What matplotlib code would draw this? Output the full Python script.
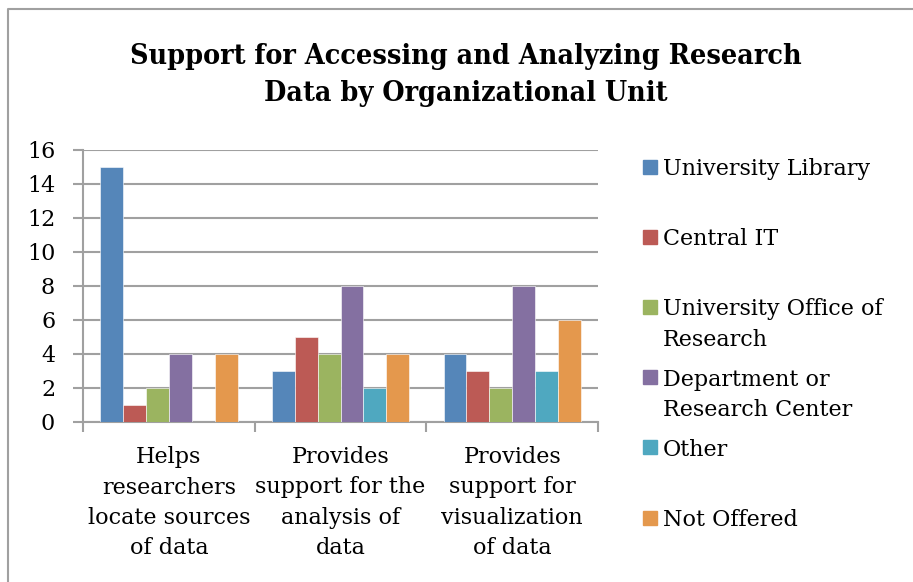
import numpy as np
import matplotlib
matplotlib.use('Agg')
from matplotlib import pyplot as plt
from matplotlib.patches import Rectangle
from matplotlib.lines import Line2D
from matplotlib.transforms import blended_transform_factory

# data
categories = ['Helps\nresearchers\nlocate sources\nof data',
              'Provides\nsupport for the\nanalysis of\ndata',
              'Provides\nsupport for\nvisualization\nof data']
series = ['University Library', 'Central IT', 'University Office of\nResearch',
          'Department or\nResearch Center', 'Other', 'Not Offered']
univ_library = [15, 3, 4]
central_it = [1, 5, 3]
office_research = [2, 4, 2]
department = [4, 8, 8]
other = [0, 2, 3]
not_offered = [4, 4, 6]
yticks = [0, 2, 4, 6, 8, 10, 12, 14, 16]

values = [univ_library, central_it, office_research, department, other, not_offered]
colors = ['#5586B9', '#BC5A55', '#9BB460', '#8470A1', '#4FA8C0', '#E4984D']

serif = 'DejaVu Serif'
fs = 16
W, H = 913, 582
fig = plt.figure(figsize=(W / 100, H / 100), dpi=100)
ax = fig.add_axes([83 / W, 1 - 422 / H, (598 - 83) / W, (422 - 150) / H])

x = np.arange(len(categories))
bw = 0.8 / len(series)
for i, (vals, c) in enumerate(zip(values, colors)):
    ax.bar(x - 0.4 + bw * (i + 0.5), vals, bw, color=c, edgecolor='white',
           linewidth=0.4, zorder=3)

ax.set_xlim(-0.5, 2.5)
ax.set_ylim(0, 16)
ax.set_yticks(yticks)
ax.set_yticklabels([str(v) for v in yticks], family=serif, fontsize=fs)
ax.yaxis.grid(True, color='#A0A0A0', linewidth=1.5, zorder=0)
ax.set_axisbelow(True)
for s in ['top', 'right']:
    ax.spines[s].set_visible(False)
for s in ['left', 'bottom']:
    ax.spines[s].set_color('#A0A0A0')
    ax.spines[s].set_linewidth(1.5)
ax.tick_params(axis='y', length=7, width=1.5, color='#A0A0A0', pad=13)

# category labels between boundary ticks
ax.set_xticks([-0.5, 0.5, 1.5, 2.5])
ax.set_xticklabels([])
ax.tick_params(axis='x', length=7, width=1.5, color='#A0A0A0')
trans = blended_transform_factory(ax.transData, fig.transFigure)
for xi, lab in zip(x, categories):
    ax.text(xi, 1 - 446 / H, lab, ha='center', va='top', family=serif, fontsize=fs,
            linespacing=1.5, transform=trans)

# legend drawn by hand so entries sit on an even pitch like the original
for i, (name, c) in enumerate(zip(series, colors)):
    ytop = 168 + 70.2 * i
    fig.patches.append(Rectangle((643 / W, 1 - (ytop + 5.5) / H), 14 / W, 14 / H,
                                 transform=fig.transFigure, color=c))
    fig.text(663 / W, 1 - (ytop - 10) / H, name, ha='left', va='top',
             family=serif, fontsize=fs, linespacing=1.5)

fig.text(466 / W, 1 - 75 / H,
         'Support for Accessing and Analyzing Research\nData by Organizational Unit',
         ha='center', va='center', family=serif, stretch='condensed',
         weight='bold', fontsize=20.5, linespacing=1.5)

# chart frame
fig.lines.append(Line2D([8 / W, 8 / W, 1], [0, 1 - 9 / H, 1 - 9 / H],
                        transform=fig.transFigure, color='#A0A0A0', linewidth=1.5))

fig.savefig('out.png', dpi=100, facecolor='white')
